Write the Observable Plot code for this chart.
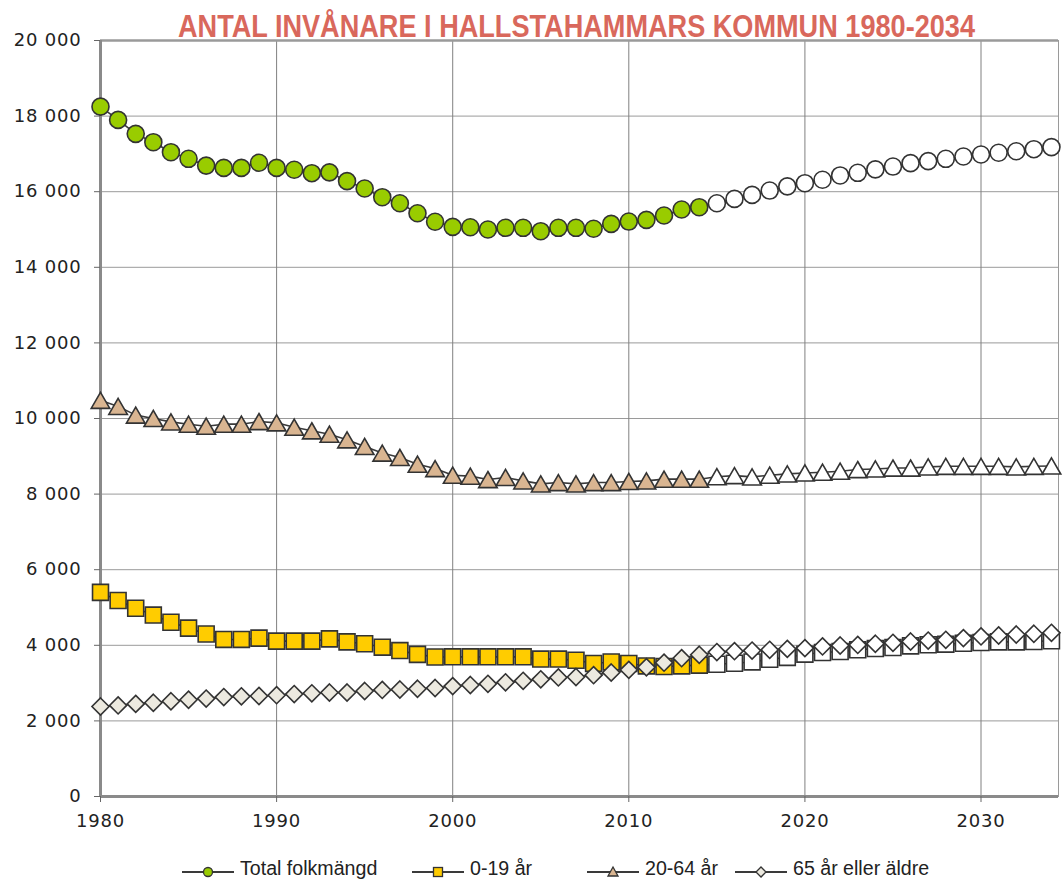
<!DOCTYPE html>
<html><head><meta charset="utf-8">
<script src="https://cdn.jsdelivr.net/npm/d3@7"></script>
<script src="https://cdn.jsdelivr.net/npm/@observablehq/plot@0.6"></script>
<style>
body{margin:0;background:#fff;}
#wrap{position:relative;width:1063px;height:884px;overflow:hidden;}
#title{position:absolute;top:8px;left:178px;white-space:nowrap;font-family:"Liberation Sans",Arial,sans-serif;font-weight:bold;font-size:32px;line-height:1.15;color:#D9685C;transform-origin:0 0;}
#chart{position:absolute;top:0;left:0;}
#legend{position:absolute;top:0;left:0;font-family:"Liberation Sans",Arial,sans-serif;font-size:20px;color:#222;}
.sym{position:absolute;top:862px;}
.lab{position:absolute;top:857px;white-space:nowrap;transform:scaleX(0.98);transform-origin:0 0;line-height:1.15;}
</style>
</head><body>
<div id="wrap">
<div id="chart"></div>
<div id="title">ANTAL INVÅNARE I HALLSTAHAMMARS KOMMUN 1980-2034</div>
<div id="legend"></div>
</div>
<script>
const years = d3.range(1980, 2035);
const lastObservedYear = 2014;
const xTicks = [1980, 1990, 2000, 2010, 2020, 2030];

const total = [18250,17900,17530,17310,17045,16870,16690,16630,16630,16765,16630,16580,16490,16510,16280,16085,15855,15695,15430,15205,
  15070,15060,15000,15045,15045,14955,15045,15045,15020,15150,15210,15255,15370,15530,15590,
  15695,15810,15915,16030,16140,16225,16315,16430,16500,16590,16665,16755,16810,16870,16930,16985,17030,17070,17125,17180];
const age0_19 = [5400,5185,4980,4800,4610,4455,4300,4155,4155,4190,4110,4110,4110,4170,4090,4040,3950,3860,3760,3690,
  3695,3695,3695,3695,3695,3635,3635,3605,3520,3560,3520,3455,3440,3455,3475,
  3500,3525,3560,3630,3680,3765,3810,3835,3880,3915,3940,3985,4015,4030,4055,4075,4090,4090,4100,4120];
const age20_64 = [10480,10320,10090,10000,9910,9850,9795,9850,9850,9920,9885,9770,9675,9585,9435,9260,9085,8970,8790,8675,
  8500,8475,8385,8440,8350,8270,8305,8270,8305,8305,8335,8350,8395,8395,8395,
  8460,8490,8455,8500,8535,8560,8580,8605,8650,8665,8690,8690,8720,8735,8735,8735,8735,8720,8735,8745];
const age65 = [2380,2410,2450,2480,2520,2560,2590,2630,2650,2660,2680,2710,2730,2750,2750,2790,2820,2830,2850,2870,
  2920,2950,2980,3020,3060,3100,3150,3160,3210,3280,3350,3420,3540,3660,3750,
  3820,3845,3860,3880,3905,3925,3970,3995,4010,4040,4065,4100,4125,4145,4190,4235,4260,4285,4305,4330];

const seriesNames = ["Total folkmängd", "0-19 år", "20-64 år", "65 år eller äldre"];
const seriesValues = [total, age0_19, age20_64, age65];
const seriesFills = ["#99CC00", "#FFCC00", "#D9B591", "#ECE9DF"];
const seriesSymbols = ["circle", "square", "triangle", "diamond2"];
const seriesR = [8.5, 9, 6.9, 7.7];
const seriesDy = [0, 0, 2.7, 0];

const fmt = d3.formatLocale({thousands: "\u00a0", grouping: [3], decimal: ","}).format(",");

const marks = [
  Plot.gridY({interval: 2000, stroke: "#9a9a9a", strokeOpacity: 1, strokeWidth: 1}),
  Plot.gridX({ticks: xTicks, stroke: "#808080", strokeOpacity: 1, strokeWidth: 1}),
  Plot.frame({stroke: "#9a9a9a", strokeWidth: 1}),
  Plot.ruleY([20000], {stroke: "#9a9a9a", strokeWidth: 2.5}),
  Plot.ruleX([1980], {stroke: "#8a8a8a", strokeWidth: 3}),
  Plot.ruleY([0], {stroke: "#8a8a8a", strokeWidth: 3}),
  Plot.axisY({interval: 2000, tickFormat: fmt, tickSize: 6, tickPadding: 13, stroke: "#666", label: null}),
  Plot.axisX({ticks: xTicks, tickFormat: d => String(d), tickSize: 6, tickPadding: 12, stroke: "#666", label: null})
];

seriesValues.forEach((vals, s) => {
  const rows = years.map((year, i) => ({year, value: vals[i]}));
  const hist = rows.filter(d => d.year <= lastObservedYear);
  const proj = rows.filter(d => d.year > lastObservedYear);
  marks.push(Plot.line(rows, {x: "year", y: "value", stroke: "#3a3a3a", strokeWidth: 1.6}));
  const opts = {x: "year", y: "value", symbol: seriesSymbols[s], r: seriesR[s], dy: seriesDy[s], stroke: "#333", strokeWidth: 1.6};
  marks.push(Plot.dot(hist, {...opts, fill: seriesFills[s]}));
  marks.push(Plot.dot(proj, {...opts, fill: "white"}));
});

const chart = Plot.plot({
  width: 1063,
  height: 840,
  marginLeft: 100,
  marginRight: 5,
  marginTop: 40,
  marginBottom: 44,
  x: {domain: [1980, 2034.4]},
  y: {domain: [0, 20000]},
  style: {fontFamily: "'DejaVu Sans', sans-serif", fontSize: "18px", color: "#222", background: "transparent", letterSpacing: "0.8px"},
  marks
});
document.getElementById("chart").appendChild(chart);

// title: condensed to the reference width
const title = document.getElementById("title");
const tw = title.getBoundingClientRect().width;
title.style.transform = `scaleX(${797 / tw})`;

// legend
const legend = document.getElementById("legend");
const symbolPaths = {
  circle: '<circle cx="26" cy="8" r="4.5"/>',
  square: '<rect x="21.5" y="3.5" width="9" height="9"/>',
  triangle: '<path d="M26,3 L31,12 L21,12 Z"/>',
  diamond2: '<path d="M26,3 L31,8 L26,13 L21,8 Z"/>'
};
const legendTextX = [240, 470, 645, 793];
seriesNames.forEach((name, s) => {
  const sym = document.createElement("div");
  sym.className = "sym";
  sym.style.left = (legendTextX[s] - 58) + "px";
  sym.innerHTML = `<svg width="52" height="16"><line x1="0" x2="52" y1="8" y2="8" stroke="#3a3a3a" stroke-width="1.8"/><g fill="${seriesFills[s]}" stroke="#333" stroke-width="1.3">${symbolPaths[seriesSymbols[s]]}</g></svg>`;
  legend.appendChild(sym);
  const lab = document.createElement("div");
  lab.className = "lab";
  lab.style.left = legendTextX[s] + "px";
  lab.textContent = name;
  legend.appendChild(lab);
});
</script>
</body></html>
